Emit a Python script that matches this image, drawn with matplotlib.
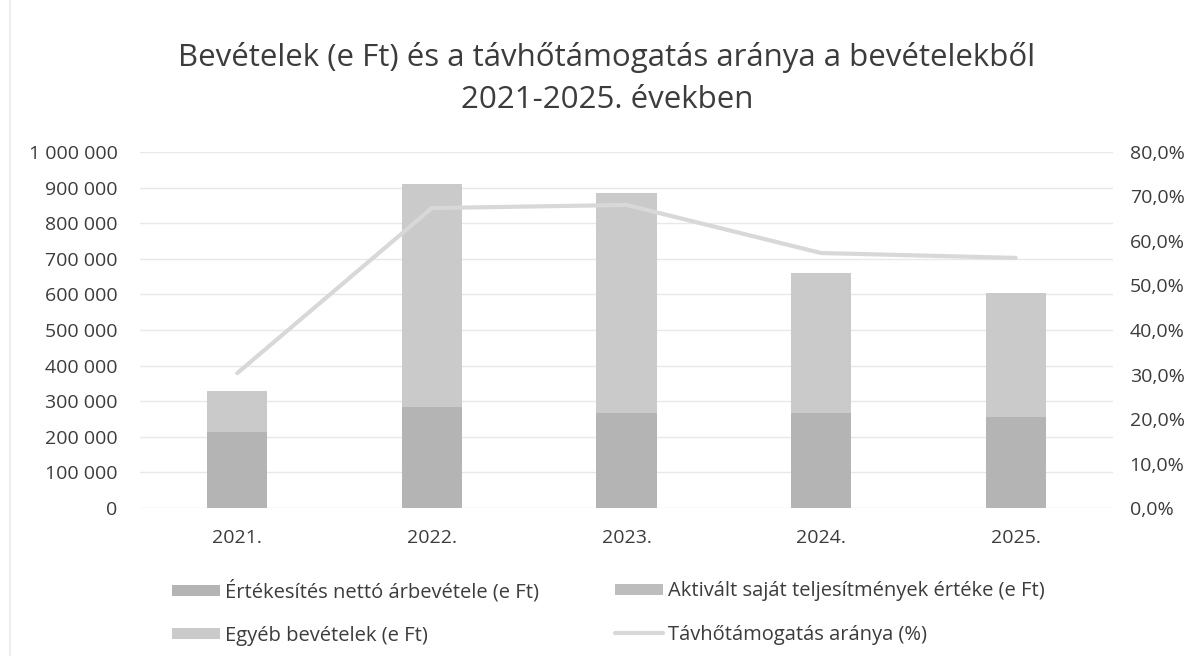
import matplotlib
matplotlib.use("Agg")
import matplotlib.pyplot as plt
from matplotlib.ticker import FuncFormatter, MultipleLocator

years = ["2021.", "2022.", "2023.", "2024.", "2025."]
ertekesites = [213000, 284000, 267000, 267000, 256000]
aktivalt = [0, 0, 0, 0, 0]
egyeb = [116000, 626000, 618000, 393000, 348000]
tavho_arany = [30.3, 67.4, 68.1, 57.3, 56.2]

labels = ["Értékesítés nettó árbevétele (e Ft)",
          "Aktivált saját teljesítmények értéke (e Ft)",
          "Egyéb bevételek (e Ft)",
          "Távhőtámogatás aránya (%)"]

plt.rcParams['font.family'] = ['Open Sans', 'DejaVu Sans']
txt = "#3c3c3c"

fig = plt.figure(figsize=(11.92, 6.56), dpi=100)
ax = fig.add_axes([0.1174, 0.2256, 0.8163, 0.5427])
ax2 = ax.twinx()

x = list(range(len(years)))
c1, c2, c3 = "#b4b4b4", "#bdbdbd", "#cacaca"
bw = 0.31
b1 = ax.bar(x, ertekesites, width=bw, color=c1, zorder=2)
b2 = ax.bar(x, aktivalt, width=bw, bottom=ertekesites, color=c2, zorder=2)
bottom3 = [a + b for a, b in zip(ertekesites, aktivalt)]
b3 = ax.bar(x, egyeb, width=bw, bottom=bottom3, color=c3, zorder=2)
ln, = ax2.plot(x, tavho_arany, color="#d8d8d8", lw=3, solid_capstyle="round", zorder=3)

ax.set_ylim(0, 1000000)
ax.yaxis.set_major_locator(MultipleLocator(100000))
ax.yaxis.set_major_formatter(FuncFormatter(lambda v, p: f"{int(v):,}".replace(",", " ")))
ax2.set_ylim(0, 80)
ax2.yaxis.set_major_locator(MultipleLocator(10))
ax2.yaxis.set_major_formatter(FuncFormatter(lambda v, p: f"{v:.1f}%".replace(".", ",")))
ax.set_xlim(-0.5, len(years) - 0.5)
ax.set_xticks(x)
ax.set_xticklabels(years)

ax.grid(axis="y", color="#e8e8e8", lw=1, zorder=0)
for a in (ax, ax2):
    for s in a.spines.values():
        s.set_visible(False)
    a.tick_params(length=0, labelsize=14, colors=txt)
ax.tick_params(axis="x", pad=15)
ax.tick_params(axis="y", pad=16)
ax2.tick_params(axis="y", pad=12)

fig.text(0.509, 0.912, "Bevételek (e Ft) és a távhőtámogatás aránya a bevételekből",
         ha="center", va="center", fontsize=22.5, color=txt)
fig.text(0.509, 0.848, "2021-2025. években",
         ha="center", va="center", fontsize=22.5, color=txt)

common = dict(loc="center left", frameon=False, fontsize=14.5, handlelength=2.4,
              handleheight=0.5, handletextpad=0.25, labelspacing=1.15,
              borderpad=0, borderaxespad=0, labelcolor=txt)
leg1 = fig.legend([b1, b3], [labels[0], labels[2]],
                  bbox_to_anchor=(172 / 1192, 1 - 613 / 656), **common)
leg2 = fig.legend([b2, ln], [labels[1], labels[3]],
                  bbox_to_anchor=(615 / 1192, 1 - 613 / 656), **common)

fig.add_artist(plt.Line2D([0.008, 0.008], [0.0, 1.0], color="#eeeeee", lw=1.5))

fig.savefig("out.png", dpi=100)
